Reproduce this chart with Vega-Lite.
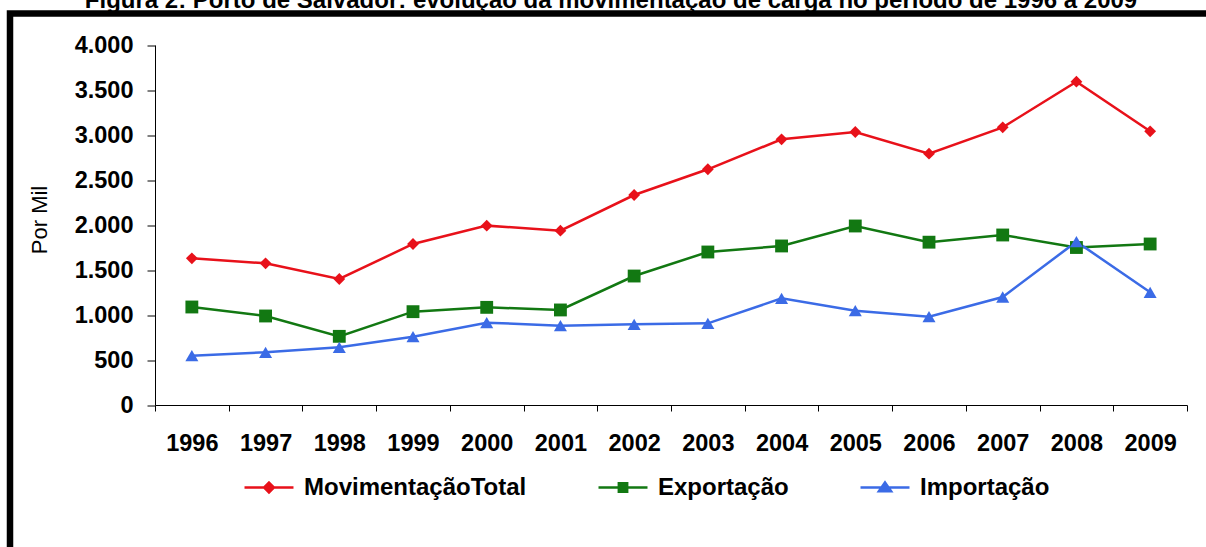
{
  "$schema": "https://vega.github.io/schema/vega-lite/v6.json",
  "autosize": {"type": "none"},
  "padding": {"left": 10, "top": 13.5, "right": -24, "bottom": -26.5},
  "width": 1220,
  "height": 560,
  "background": "white",
  "title": {
    "text": "Figura 2: Porto de Salvador: evolução da movimentação de carga no período de 1996 a 2009",
    "font": "Liberation Sans",
    "fontSize": 24,
    "fontWeight": "bold",
    "color": "black",
    "anchor": "middle",
    "baseline": "alphabetic",
    "offset": -18,
    "dx": -9
  },
  "config": {
    "view": {"stroke": "black", "strokeWidth": 6.5},
    "axis": {"grid": false, "domainColor": "black", "tickColor": "black", "labelColor": "black", "labelFont": "Liberation Sans", "labelFontWeight": "bold", "labelFontSize": 23.5}
  },
  "data": {
    "values": [
      {"ano": "1996", "serie": "MovimentaçãoTotal", "valor": 1630},
      {"ano": "1997", "serie": "MovimentaçãoTotal", "valor": 1574},
      {"ano": "1998", "serie": "MovimentaçãoTotal", "valor": 1400},
      {"ano": "1999", "serie": "MovimentaçãoTotal", "valor": 1789},
      {"ano": "2000", "serie": "MovimentaçãoTotal", "valor": 1993},
      {"ano": "2001", "serie": "MovimentaçãoTotal", "valor": 1937},
      {"ano": "2002", "serie": "MovimentaçãoTotal", "valor": 2333},
      {"ano": "2003", "serie": "MovimentaçãoTotal", "valor": 2619},
      {"ano": "2004", "serie": "MovimentaçãoTotal", "valor": 2952},
      {"ano": "2005", "serie": "MovimentaçãoTotal", "valor": 3033},
      {"ano": "2006", "serie": "MovimentaçãoTotal", "valor": 2793},
      {"ano": "2007", "serie": "MovimentaçãoTotal", "valor": 3085},
      {"ano": "2008", "serie": "MovimentaçãoTotal", "valor": 3593},
      {"ano": "2009", "serie": "MovimentaçãoTotal", "valor": 3041},
      {"ano": "1996", "serie": "Exportação", "valor": 1089},
      {"ano": "1997", "serie": "Exportação", "valor": 989},
      {"ano": "1998", "serie": "Exportação", "valor": 763},
      {"ano": "1999", "serie": "Exportação", "valor": 1037},
      {"ano": "2000", "serie": "Exportação", "valor": 1085},
      {"ano": "2001", "serie": "Exportação", "valor": 1056},
      {"ano": "2002", "serie": "Exportação", "valor": 1433},
      {"ano": "2003", "serie": "Exportação", "valor": 1700},
      {"ano": "2004", "serie": "Exportação", "valor": 1767},
      {"ano": "2005", "serie": "Exportação", "valor": 1989},
      {"ano": "2006", "serie": "Exportação", "valor": 1809},
      {"ano": "2007", "serie": "Exportação", "valor": 1889},
      {"ano": "2008", "serie": "Exportação", "valor": 1750},
      {"ano": "2009", "serie": "Exportação", "valor": 1789},
      {"ano": "1996", "serie": "Importação", "valor": 548},
      {"ano": "1997", "serie": "Importação", "valor": 585},
      {"ano": "1998", "serie": "Importação", "valor": 641},
      {"ano": "1999", "serie": "Importação", "valor": 759},
      {"ano": "2000", "serie": "Importação", "valor": 915},
      {"ano": "2001", "serie": "Importação", "valor": 881},
      {"ano": "2002", "serie": "Importação", "valor": 896},
      {"ano": "2003", "serie": "Importação", "valor": 907},
      {"ano": "2004", "serie": "Importação", "valor": 1185},
      {"ano": "2005", "serie": "Importação", "valor": 1048},
      {"ano": "2006", "serie": "Importação", "valor": 981},
      {"ano": "2007", "serie": "Importação", "valor": 1200},
      {"ano": "2008", "serie": "Importação", "valor": 1815},
      {"ano": "2009", "serie": "Importação", "valor": 1252}
    ]
  },
  "encoding": {
    "x": {
      "field": "ano",
      "type": "ordinal",
      "scale": {"type": "band", "paddingInner": 0, "paddingOuter": 0, "range": [145, 1177]},
      "axis": {"orient": "bottom", "offset": -168.5, "title": null, "labelAngle": 0, "labelPadding": 20, "tickSize": 6, "tickBand": "extent", "domainWidth": 1}
    },
    "y": {
      "field": "valor",
      "type": "quantitative",
      "scale": {"domain": [0, 4000], "range": [391.5, 31.5], "nice": false},
      "axis": {
        "orient": "left",
        "offset": -145,
        "values": [0, 500, 1000, 1500, 2000, 2500, 3000, 3500, 4000],
        "labelExpr": "replace(format(datum.value, ','), ',', '.')",
        "tickSize": 8,
        "labelPadding": 14,
        "title": "Por Mil",
        "titleFont": "Liberation Sans",
        "titleFontWeight": "normal",
        "titleFontSize": 22,
        "titleColor": "black",
        "titleX": -104,
        "titleY": 206
      }
    },
    "color": {
      "field": "serie",
      "type": "nominal",
      "scale": {"domain": ["MovimentaçãoTotal", "Exportação", "Importação"], "range": ["#E8111A", "#127812", "#3B6BE6"]},
      "legend": {
        "title": null,
        "orient": "none",
        "legendX": 233,
        "legendY": 448,
        "direction": "horizontal",
        "columns": 3,
        "padding": 0,
        "columnPadding": 66,
        "labelFont": "Liberation Sans",
        "labelFontWeight": "bold",
        "labelFontSize": 24,
        "labelColor": "black",
        "labelOffset": 9,
        "labelLimit": 400,
        "symbolSize": 2400,
        "symbolStrokeWidth": 2.5,
        "encode": {
          "symbols": {
            "update": {
              "shape": {"signal": "datum.value === 'MovimentaçãoTotal' ? 'M-1,0H1M0,-0.2L0.2,0L0,0.2L-0.2,0Z' : (datum.value === 'Exportação' ? 'M-1,0H1M-0.17,-0.17H0.17V0.17H-0.17Z' : 'M-1,0H1M0,-0.21L0.25,0.15H-0.25Z')"},
              "size": {"value": 2400},
              "fill": {"scale": "color", "field": "value"},
              "stroke": {"scale": "color", "field": "value"},
              "strokeWidth": {"value": 2.5},
              "opacity": {"value": 1}
            }
          }
        }
      }
    }
  },
  "layer": [
    {"mark": {"type": "line", "strokeWidth": 2.5}},
    {
      "transform": [{"filter": "datum.serie === 'MovimentaçãoTotal'"}],
      "mark": {"type": "point", "filled": true, "opacity": 1, "shape": "diamond", "size": 140}
    },
    {
      "transform": [{"filter": "datum.serie === 'Exportação'"}],
      "mark": {"type": "point", "filled": true, "opacity": 1, "shape": "square", "size": 165}
    },
    {
      "transform": [{"filter": "datum.serie === 'Importação'"}],
      "mark": {"type": "point", "filled": true, "opacity": 1, "shape": "triangle-up", "size": 170}
    }
  ]
}
